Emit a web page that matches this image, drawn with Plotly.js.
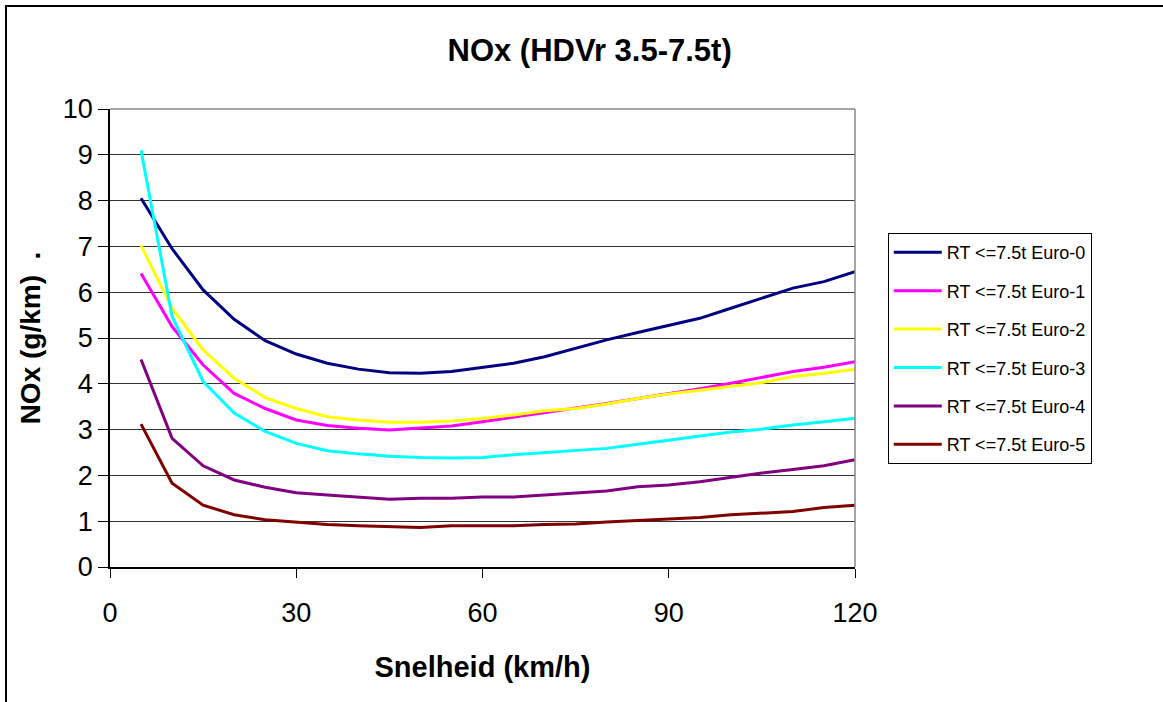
<!DOCTYPE html>
<html>
<head>
<meta charset="utf-8">
<script src="https://cdn.plot.ly/plotly-3.0.1.min.js"></script>
<style>
html,body{margin:0;padding:0;background:#fff;}
#chart{width:1163px;height:702px;}
</style>
</head>
<body>
<div id="chart"></div>
<script>
const speed = [5,10,15,20,25,30,35,40,45,50,55,60,65,70,75,80,85,90,95,100,105,110,115,120];
const euro0 = [8.05,6.95,6.05,5.41,4.94,4.65,4.45,4.32,4.24,4.23,4.27,4.36,4.45,4.59,4.77,4.96,5.12,5.28,5.43,5.65,5.87,6.09,6.23,6.45];
const euro1 = [6.41,5.25,4.41,3.79,3.46,3.21,3.09,3.03,2.99,3.03,3.08,3.17,3.27,3.37,3.46,3.57,3.68,3.78,3.89,4.01,4.14,4.27,4.36,4.48];
const euro2 = [7.02,5.65,4.74,4.12,3.70,3.46,3.28,3.21,3.16,3.16,3.19,3.24,3.32,3.41,3.46,3.56,3.68,3.78,3.86,3.94,4.03,4.16,4.23,4.32];
const euro3 = [9.10,5.47,4.05,3.36,2.96,2.70,2.54,2.47,2.42,2.39,2.38,2.39,2.45,2.50,2.54,2.59,2.68,2.77,2.86,2.95,3.01,3.10,3.17,3.25];
const euro4 = [4.53,2.81,2.21,1.90,1.74,1.62,1.57,1.52,1.48,1.50,1.50,1.53,1.53,1.57,1.61,1.66,1.75,1.79,1.86,1.96,2.05,2.13,2.21,2.34];
const euro5 = [3.12,1.83,1.35,1.14,1.03,0.98,0.93,0.90,0.88,0.86,0.90,0.90,0.90,0.93,0.94,0.98,1.01,1.05,1.08,1.14,1.17,1.21,1.30,1.35];
const seriesNames = ["RT <=7.5t Euro-0","RT <=7.5t Euro-1","RT <=7.5t Euro-2","RT <=7.5t Euro-3","RT <=7.5t Euro-4","RT <=7.5t Euro-5"];
const seriesValues = [euro0, euro1, euro2, euro3, euro4, euro5];
const seriesColors = ["#000080","#FF00FF","#FFFF00","#00FFFF","#800080","#800000"];

const FONT = '"Liberation Sans", Arial, sans-serif';

const traces = seriesValues.map((vals, i) => ({
  type: 'scatter',
  mode: 'lines',
  x: speed,
  y: vals,
  name: seriesNames[i],
  legendgroup: 'g' + i,
  line: {color: seriesColors[i], width: 3}
}));

const layout = {
  width: 1163,
  height: 702,
  margin: {l: 110, r: 308, t: 109, b: 135},
  paper_bgcolor: '#ffffff',
  plot_bgcolor: '#ffffff',
  font: {family: FONT, color: '#000000'},
  title: {
    text: '<b>NOx (HDVr 3.5-7.5t)</b>',
    font: {family: FONT, size: 31, color: '#000'},
    xref: 'container', x: 0.507, xanchor: 'center',
    yref: 'container', y: 0.929, yanchor: 'middle'
  },
  xaxis: {
    range: [0, 120],
    tickmode: 'array',
    tickvals: [0, 30, 60, 90, 120],
    ticktext: ['0', '30', '60', '90', '120'],
    ticks: 'outside', ticklen: 9, tickcolor: '#000', tickwidth: 1,
    ticklabelstandoff: 12,
    showline: true, linecolor: '#000', linewidth: 1.5,
    showgrid: false, zeroline: false,
    tickfont: {family: FONT, size: 27, color: '#000'},
    title: {text: '<b>Snelheid (km/h)</b>', font: {family: FONT, size: 29, color: '#000'}, standoff: 30}
  },
  yaxis: {
    range: [0, 10],
    dtick: 1,
    ticks: 'outside', ticklen: 10, tickcolor: '#000', tickwidth: 1,
    showline: true, linecolor: '#000', linewidth: 1.5,
    showgrid: true, gridcolor: '#333333', gridwidth: 1,
    zeroline: false,
    tickfont: {family: FONT, size: 27, color: '#000'},
    title: {text: '<b>NOx (g/km)\u00a0\u00a0.</b>', font: {family: FONT, size: 28, color: '#000'}, standoff: 14}
  },
  showlegend: true,
  legend: {
    x: 1.044, xanchor: 'left',
    y: 0.729, yanchor: 'top',
    bgcolor: '#ffffff',
    bordercolor: '#000000', borderwidth: 1,
    font: {family: FONT, size: 18, color: '#000'},
    traceorder: 'grouped',
    tracegroupgap: 12,
    itemwidth: 48
  },
  shapes: [
    {type: 'line', xref: 'paper', yref: 'paper', x0: 0, x1: 1, y0: 1, y1: 1, line: {color: '#888888', width: 1.5}},
    {type: 'line', xref: 'paper', yref: 'paper', x0: 1, x1: 1, y0: 0, y1: 1, line: {color: '#888888', width: 1.5}},
    {type: 'rect', xref: 'paper', yref: 'paper', x0: -0.1396, x1: 2, y0: -2, y1: 1.2249, line: {color: '#000000', width: 2}, layer: 'above'}
  ]
};

Plotly.newPlot('chart', traces, layout, {displayModeBar: false, responsive: false});
</script>
</body>
</html>
